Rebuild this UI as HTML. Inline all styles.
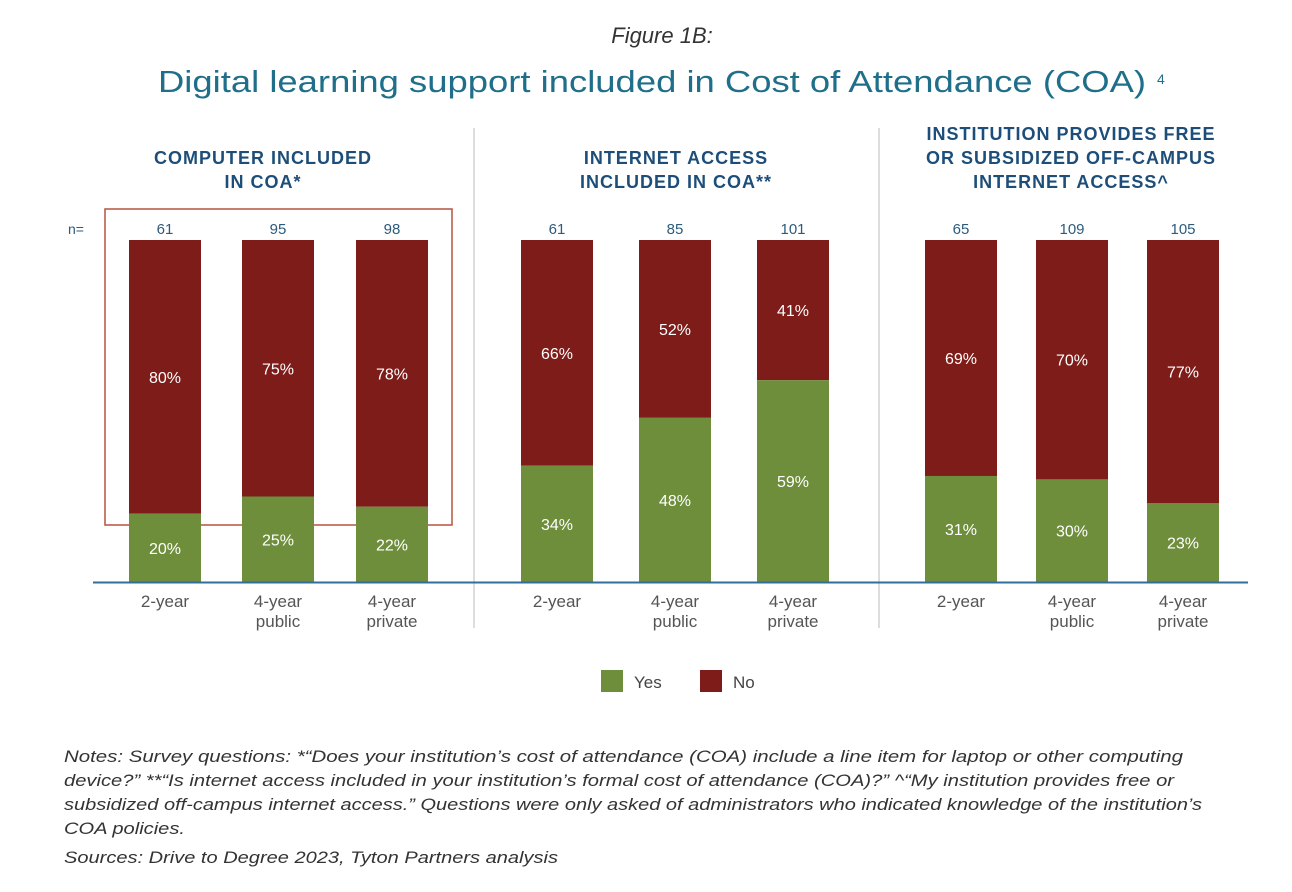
<!DOCTYPE html>
<html><head><meta charset="utf-8"><style>
body{margin:0;width:1292px;height:892px;background:#fff;font-family:"Liberation Sans",sans-serif;overflow:hidden}
svg{display:block}
</style></head><body>
<svg width="1292" height="892" id="c">
<text x="662" y="43" text-anchor="middle" font-size="22" font-style="italic" fill="#333">Figure 1B:</text>
<text x="158" y="92" font-size="31" fill="#1f6f8b" textLength="988" lengthAdjust="spacingAndGlyphs">Digital learning support included in Cost of Attendance (COA)</text>
<text x="1157" y="84" font-size="14" fill="#1f6f8b">4</text>
<line x1="474" y1="128" x2="474" y2="628" stroke="#ddd" stroke-width="2"/>
<line x1="879" y1="128" x2="879" y2="628" stroke="#ddd" stroke-width="2"/>
<rect x="105" y="209" width="347" height="316" fill="none" stroke="#b5533f" stroke-width="1.5"/>
<text x="68" y="234" font-size="14" fill="#2c5b7c">n=</text>
<g id="bars"></g>
<line x1="93" y1="582.5" x2="1248" y2="582.5" stroke="#2f6f9a" stroke-width="2"/>
<rect x="601" y="670" width="22" height="22" fill="#6e8e3c"/>
<text x="634" y="688" font-size="17" fill="#444">Yes</text>
<rect x="700" y="670" width="22" height="22" fill="#7d1c18"/>
<text x="733" y="688" font-size="17" fill="#444">No</text>
<g font-size="17" font-style="italic" fill="#333">
<text x="64" y="762" textLength="1119" lengthAdjust="spacingAndGlyphs">Notes: Survey questions: *“Does your institution’s cost of attendance (COA) include a line item for laptop or other computing</text>
<text x="64" y="786" textLength="1110" lengthAdjust="spacingAndGlyphs">device?” **“Is internet access included in your institution’s formal cost of attendance (COA)?” ^“My institution provides free or</text>
<text x="64" y="810" textLength="1138" lengthAdjust="spacingAndGlyphs">subsidized off-campus internet access.” Questions were only asked of administrators who indicated knowledge of the institution’s</text>
<text x="64" y="834" textLength="121" lengthAdjust="spacingAndGlyphs">COA policies.</text>
<text x="64" y="863" textLength="494" lengthAdjust="spacingAndGlyphs">Sources: Drive to Degree 2023, Tyton Partners analysis</text>
</g>
</svg>
<script>
const panelTitles=[["COMPUTER INCLUDED","IN COA*"],["INTERNET ACCESS","INCLUDED IN COA**"],["INSTITUTION PROVIDES FREE","OR SUBSIDIZED OFF-CAMPUS","INTERNET ACCESS^"]];
const categories=[["2-year"],["4-year","public"],["4-year","private"]];
const yesValues=[[20,25,22],[34,48,59],[31,30,23]];
const noValues=[[80,75,78],[66,52,41],[69,70,77]];
const nValues=[[61,95,98],[61,85,101],[65,109,105]];
const centers=[[165,278,392],[557,675,793],[961,1072,1183]];
const titleX=[263,676,1071], titleY=[[164,188],[164,188],[140,164,188]];
const barW=72, plotTop=240, plotBase=582;
const yScale=v=>plotBase-(v/100)*(plotBase-plotTop);
const ns="http://www.w3.org/2000/svg";
const g=document.getElementById('bars');
function mk(t,a,txt){const e=document.createElementNS(ns,t);for(const k in a)e.setAttribute(k,a[k]);if(txt!=null)e.textContent=txt;g.appendChild(e);return e;}
panelTitles.forEach((lines,p)=>{
 lines.forEach((l,i)=>{const t=mk('text',{x:titleX[p],y:titleY[p][i],'text-anchor':'middle','font-size':18,'font-weight':'bold','letter-spacing':1,fill:'#1d4e79'},l);
 
 });
 categories.forEach((cat,i)=>{
  const cx=centers[p][i],yv=yesValues[p][i],nv=noValues[p][i];
  const yTop=yScale(yv), nTop=yScale(yv+nv);
  const r1=mk('rect',{x:cx-barW/2,y:nTop,width:barW,height:yTop-nTop,fill:'#7d1c18'});
  
  
  const r2=mk('rect',{x:cx-barW/2,y:yTop,width:barW,height:plotBase-yTop,fill:'#6e8e3c'});
  
  
  const t1=mk('text',{x:cx,y:(nTop+yTop)/2+6,'text-anchor':'middle','font-size':16,fill:'#fff'},nv+'%');
  
  
  const t2=mk('text',{x:cx,y:(yTop+plotBase)/2+6,'text-anchor':'middle','font-size':16,fill:'#fff'},yv+'%');
  
  
  const t3=mk('text',{x:cx,y:234,'text-anchor':'middle','font-size':15,fill:'#2c5b7c'},nValues[p][i]);
  
  
  cat.forEach((l,j)=>{const t=mk('text',{x:cx,y:607+j*20,'text-anchor':'middle','font-size':17,fill:'#555'},l);
   
   });
 });
});
</script>
</body></html>
